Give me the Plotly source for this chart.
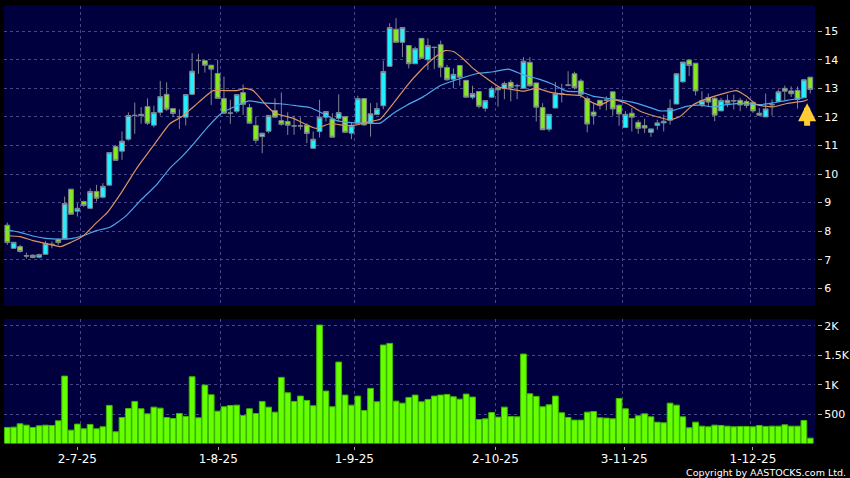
import plotly.graph_objects as go

hi = [8.30,7.61,7.52,7.25,7.18,7.21,7.66,7.64,7.75,9.21,9.47,8.98,9.06,9.50,9.62,9.68,10.75,11.02,11.49,12.16,12.50,12.34,12.65,12.39,13.26,13.21,12.29,12.27,12.78,14.23,14.21,13.97,13.81,14.0,13.41,12.60,12.78,13.14,12.46,12.01,11.43,12.07,12.65,12.86,12.16,12.04,11.99,11.78,11.49,12.60,12.19,12.13,12.79,12.01,11.80,12.74,12.64,12.48,12.50,13.97,15.28,15.46,15.13,14.50,14.46,14.75,14.75,14.46,14.67,13.82,13.70,13.80,13.28,13.09,12.89,12.57,13.06,13.04,13.24,13.30,13.16,14.09,14.09,13.19,12.48,12.09,13.22,13.16,13.60,13.58,13.33,12.72,12.49,12.58,12.72,12.88,12.43,12.20,12.31,11.90,11.94,11.58,11.90,12.08,12.61,13.54,13.92,14.01,13.88,12.90,12.82,12.70,12.67,12.78,12.78,12.67,12.61,12.55,12.31,12.82,12.61,12.96,13.10,13.07,13.07,13.33,13.39]
body_top = [8.21,7.61,7.46,7.14,7.16,7.18,7.57,7.54,7.70,8.97,9.47,8.80,9.04,9.39,9.39,9.57,10.75,10.96,11.15,12.05,12.06,12.09,12.36,12.15,12.71,12.79,12.29,12.01,12.78,13.60,13.98,13.97,13.81,13.52,12.64,12.14,12.78,12.85,12.33,11.70,11.43,12.05,12.22,11.87,11.84,11.69,11.69,11.71,11.22,11.99,12.19,11.93,12.15,12.01,11.69,12.64,12.64,12.11,12.29,13.59,15.13,15.07,15.13,14.50,14.39,14.75,14.50,14.44,14.53,13.73,13.49,13.80,13.28,12.82,12.89,12.57,12.99,13.02,13.17,13.21,13.10,13.95,13.91,13.19,12.33,12.09,12.81,12.81,13.12,13.51,13.26,12.64,12.17,12.58,12.59,12.88,12.41,12.09,12.13,11.81,11.70,11.58,11.79,11.85,12.30,13.51,13.92,13.99,13.88,12.57,12.68,12.65,12.58,12.58,12.57,12.58,12.54,12.51,12.13,12.28,12.43,12.88,13.0,12.91,12.93,13.30,13.39]
body_bot = [7.60,7.40,7.29,7.13,7.08,7.09,7.19,7.53,7.60,7.74,8.59,8.70,8.90,8.80,9.15,9.19,9.61,10.48,10.80,11.22,12.05,12.05,11.78,11.71,12.16,12.27,12.12,12.00,11.99,12.79,13.97,13.81,13.67,12.65,12.13,12.13,12.20,12.44,11.78,11.18,11.31,11.50,11.99,11.74,11.71,11.68,11.68,11.42,10.90,11.49,11.99,11.29,11.95,11.46,11.43,11.78,11.72,11.78,12.08,12.39,13.77,14.61,14.61,13.86,13.86,14.05,14.00,14.43,13.74,13.30,13.32,13.39,12.69,12.69,12.37,12.30,12.69,12.95,12.99,13.02,13.09,13.00,13.09,12.34,11.55,11.57,12.31,12.80,13.11,13.02,12.79,11.75,12.04,12.41,12.58,12.28,12.10,11.63,11.99,11.60,11.61,11.46,11.70,11.79,11.88,12.45,13.23,13.80,12.91,12.43,12.52,12.06,12.21,12.48,12.56,12.42,12.40,12.21,12.06,12.00,12.42,12.54,12.90,12.81,12.61,12.67,12.96]
lo = [7.52,7.40,7.25,7.04,7.05,7.05,7.19,7.40,7.52,7.74,8.59,8.51,8.84,8.77,9.04,9.15,9.61,10.46,10.50,11.17,11.41,11.76,11.72,11.63,12.05,12.21,11.99,11.58,11.70,12.79,13.51,13.55,12.42,12.65,12.13,11.76,12.13,12.07,11.76,11.07,10.73,11.43,11.99,11.69,11.37,11.37,11.55,11.08,10.90,11.28,11.84,11.29,11.84,11.43,11.22,11.76,11.69,11.31,12.07,12.27,13.77,14.61,14.09,13.70,13.86,14.05,13.65,13.67,13.39,13.27,13.00,13.09,12.69,12.62,12.30,12.19,12.69,12.36,12.62,12.54,12.62,13.00,13.06,11.84,11.55,11.49,12.31,12.51,13.07,12.96,12.67,11.46,11.73,12.26,12.23,12.04,11.69,11.61,11.49,11.41,11.44,11.30,11.55,11.49,11.73,12.45,13.19,13.43,12.75,12.34,12.37,11.85,12.21,12.34,12.26,12.20,12.31,12.14,12.02,12.00,12.04,12.51,12.58,12.70,12.29,12.67,12.82]
is_up = [0,1,0,0,0,1,1,1,0,1,0,1,0,1,0,1,1,0,1,1,0,0,0,1,1,0,0,1,1,1,0,0,0,0,0,0,1,0,0,0,1,1,0,0,0,0,0,0,1,1,1,0,1,0,1,1,0,1,1,1,1,0,1,0,1,0,1,0,0,0,1,0,0,1,0,1,1,0,1,0,0,1,0,0,0,1,1,0,0,0,0,0,0,0,1,0,0,1,0,0,0,1,1,1,1,1,1,0,0,1,0,0,1,0,0,0,0,0,0,1,1,1,0,0,0,1,0]

volume = [273,278,335,312,273,301,312,307,386,1147,227,330,250,324,250,284,648,199,443,596,716,591,505,619,602,443,426,511,460,1136,437,994,829,551,625,647,653,477,591,511,716,619,534,1125,863,716,807,733,642,2016,892,625,1386,824,653,807,562,937,710,1676,1704,721,687,784,824,710,750,807,824,835,795,755,841,790,409,420,528,449,619,460,454,1522,846,801,625,659,807,523,443,398,398,534,545,437,432,420,767,591,426,471,505,454,363,352,687,653,454,267,363,295,284,312,307,295,284,290,290,284,307,290,295,295,318,295,295,392,91]

ma_short_x = [0,2,4,6,8.3,10,12,14,15.6,17.9,20.3,23.4,25.5,27.4,29.4,32.3,34.4,36,37.3,38.6,40.7,42,44.9,47,48.5,50.6,53.2,54.8,56.9,58.5,60.6,62.7,64.7,66.9,68.7,70,71.6,73.1,75.2,77.3,78.9,81,83,85.1,87.8,89.9,91.4,92.9,95,97.2,99.3,101.4,104,105.6,107.6,109.7,111.8,114.4,116,117.6,120.2,122.3,124.9,125.6]
ma_short = [7.84,7.81,7.67,7.57,7.46,7.61,7.85,8.30,8.63,9.35,10.20,11.14,11.76,12.01,12.39,12.92,12.92,12.92,13.00,12.92,12.39,12.13,11.95,11.72,11.60,11.76,11.70,11.72,11.84,11.92,12.48,13.09,13.59,14.05,14.32,14.29,14.02,13.70,13.35,13.04,12.97,12.90,13.00,12.87,12.78,12.75,12.55,12.41,12.61,12.47,12.20,12.04,11.90,12.02,12.42,12.63,12.78,12.92,12.72,12.43,12.35,12.47,12.55,12.61]
ma_long_x = [0,2,4,6,8,10,12,14,16,18.5,21,23.4,25.5,27.4,29.4,31.5,33.6,36,38,40,42.8,45.4,47.5,49.6,51.7,54,56.9,58.5,60.6,62.7,65.3,67.9,70.5,73.6,76.3,78.6,81,83.3,85.4,87.8,89.9,92,94.5,98.2,100.3,102.4,104.5,106.6,108.7,110.8,112.9,116,118.1,120.2,122.3,125]
ma_long = [8.05,7.96,7.83,7.75,7.72,7.74,7.85,8.02,8.13,8.51,9.10,9.62,10.20,10.61,11.10,11.66,12.13,12.39,12.56,12.49,12.46,12.39,12.33,12.11,11.87,11.80,11.78,11.78,12.13,12.41,12.71,13.09,13.30,13.51,13.58,13.67,13.47,13.33,13.16,12.90,12.88,12.72,12.64,12.51,12.37,12.21,12.23,12.37,12.41,12.35,12.43,12.47,12.43,12.49,12.58,12.67]

tick_labels = ["2-7-25","1-8-25","1-9-25","2-10-25","3-11-25","1-12-25"]
label_pos = [11,33.1,54.45,76.6,96.8,117]
grid_pos = [11.45,33.4,54.45,76.6,96.5,116.6]
price_ticks = [6,7,8,9,10,11,12,13,14,15]
vol_ticks = [500,1000,1500,2000]
vol_labels = ["500","1K","1.5K","2K"]
signal_bar, signal_price = 125.5, 12.48

BG, NAVY, GRID = "#000000", "#00003f", "#46468a"
idx = list(range(len(volume)))
opens = [b if u else t for t, b, u in zip(body_top, body_bot, is_up)]
closes = [t if u else b for t, b, u in zip(body_top, body_bot, is_up)]

fig = go.Figure()
fig.add_trace(go.Bar(x=idx, y=volume, xaxis="x2", yaxis="y2", marker=dict(color="#66ff00", line=dict(color="#3fb800", width=1)), showlegend=False, hoverinfo="skip"))
fig.add_trace(go.Candlestick(x=idx, open=opens, high=hi, low=lo, close=closes, xaxis="x", yaxis="y", whiskerwidth=0,
    increasing=dict(line=dict(color="#7f8490", width=1), fillcolor="#22f0ff"),
    decreasing=dict(line=dict(color="#7f8490", width=1), fillcolor="#84ea1e"), showlegend=False))
fig.add_trace(go.Scatter(x=ma_long_x, y=ma_long, mode="lines", xaxis="x", yaxis="y", line=dict(color="#4ea8e8", width=1.2, shape="spline", smoothing=0.5), showlegend=False, hoverinfo="skip"))
fig.add_trace(go.Scatter(x=ma_short_x, y=ma_short, mode="lines", xaxis="x", yaxis="y", line=dict(color="#d9935f", width=1.2, shape="spline", smoothing=0.5), showlegend=False, hoverinfo="skip"))

xr = [-0.518, 126.74]
axis_font = dict(family="DejaVu Sans", size=12, color="#ffffff")
value_font = dict(family="DejaVu Sans", size=11, color="#ffffff")
def grid_x(**kw):
    return dict(range=xr, domain=[4/850, 815/850], tickmode="array", tickvals=grid_pos, showticklabels=False, ticks="",
                showgrid=True, gridcolor=GRID, griddash="3px,3px", gridwidth=1, zeroline=False, **kw)
def val_y(vals, text, rng, dom):
    return dict(range=rng, domain=dom, side="right", tickmode="array", tickvals=vals, ticktext=text, ticks="outside", ticklen=4,
                tickcolor="#aaaaaa", tickfont=value_font, showline=True, linecolor=BG, linewidth=3, showgrid=True, gridcolor=GRID,
                griddash="3px,3px", gridwidth=1, zeroline=False, automargin=False)

fig.update_layout(
    width=850, height=478, autosize=False, margin=dict(l=0, r=0, t=0, b=0, pad=0),
    paper_bgcolor=BG, plot_bgcolor=NAVY, bargap=0.1, boxgap=0.25, boxgroupgap=0, hovermode=False,
    xaxis=dict(**grid_x(anchor="y"), rangeslider=dict(visible=False)),
    yaxis=val_y(price_ticks, [str(v) for v in price_ticks], [5.38, 15.9], [1-306/478, 1-5.5/478]),
    xaxis2=grid_x(anchor="y2"),
    yaxis2=val_y(vol_ticks, vol_labels, [0, 2119], [1-443.5/478, 1-319/478]),
    xaxis3=dict(range=xr, domain=[4/850, 815/850], overlaying="x2", anchor="y2", side="bottom", tickmode="array", tickvals=label_pos, ticktext=tick_labels,
                ticks="outside", ticklen=3, tickcolor="#aaaaaa", tickfont=axis_font, showgrid=False, zeroline=False, showline=True, linecolor=BG, linewidth=3, ticklabelstandoff=-1),
    annotations=[
        dict(text="Copyright by AASTOCKS.com Ltd.", xref="paper", yref="paper", x=848/850, y=1-472/478, xanchor="right", yanchor="middle", showarrow=False,
             font=dict(family="DejaVu Sans", size=9.5, color="#ffffff")),
        dict(x=signal_bar, y=signal_price, xref="x", yref="y", ax=0, ay=24, axref="pixel", ayref="pixel", text="", showarrow=True, arrowhead=2, arrowsize=0.6, arrowwidth=6, arrowcolor="#ffcc33"),
    ],
)
fig.add_trace(go.Scatter(x=[idx[0]], y=[0], xaxis="x3", yaxis="y2", mode="markers", marker=dict(opacity=0), showlegend=False, hoverinfo="skip"))
fig.write_html("out.html", config={"displayModeBar": False}, post_script="document.body.style.margin='0';document.body.style.background='#000';")
